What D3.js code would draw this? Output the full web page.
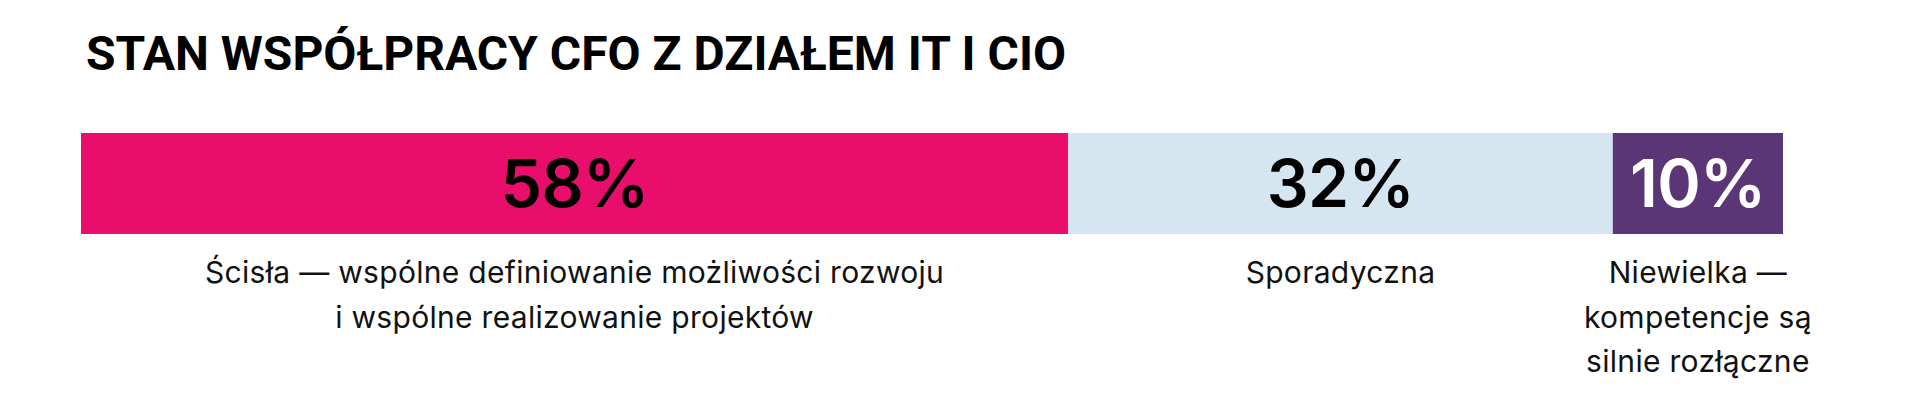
<!DOCTYPE html>
<html>
<head>
<meta charset="utf-8">
<script src="https://cdn.jsdelivr.net/npm/d3@7"></script>
<style>
  body { margin: 0; background: #fff; }
  svg { display: block; }
</style>
</head>
<body>
<svg id="svg"></svg>
<script>
var title = "STAN WSPÓŁPRACY CFO Z DZIAŁEM IT I CIO";
var categories = ["Ścisła", "Sporadyczna", "Niewielka"];
var values = [58, 32, 10];
var valueLabels = ["58%", "32%", "10%"];
var descriptions = [
    ["Ścisła — wspólne definiowanie możliwości rozwoju", "i wspólne realizowanie projektów"],
    ["Sporadyczna"],
    ["Niewielka —", "kompetencje są", "silnie rozłączne"]
];
var colors = ["#e90e6c", "#d6e6f0", "#5a3677"];
var textColors = ["#000", "#000", "#fff"];

var width = 1919, height = 409;
var svg = d3.select("#svg").attr("width", width).attr("height", height);

// stack the shares
var segs = [];
var acc = 0;
for (var i = 0; i < values.length; ++i) {
    segs.push({name: categories[i], value: values[i], x0: acc, x1: acc + values[i],
               label: valueLabels[i], desc: descriptions[i], color: colors[i], tcolor: textColors[i]});
    acc += values[i];
}

var x = d3.scaleLinear().domain([0, acc]).range([81, 1783]);
var barTop = 133, barH = 101;

svg.append("text")
    .attr("x", 86)
    .attr("y", 70)
    .attr("font-family", "Roboto, 'Liberation Sans', sans-serif")
    .attr("font-weight", 700)
    .attr("font-size", 48)
    .attr("letter-spacing", 0)
    .attr("fill", "#000")
    .text(title);

var g = svg.selectAll("g.seg")
    .data(segs)
    .enter()
    .append("g")
    .attr("class", "seg");

g.append("rect")
    .attr("x", function(d) { return x(d.x0); })
    .attr("y", barTop)
    .attr("width", function(d) { return x(d.x1) - x(d.x0); })
    .attr("height", barH)
    .attr("fill", function(d) { return d.color; });

g.append("text")
    .attr("x", function(d) { return (x(d.x0) + x(d.x1)) / 2; })
    .attr("y", 207)
    .attr("text-anchor", "middle")
    .attr("font-family", "Inter, 'Noto Sans', sans-serif")
    .attr("font-weight", 600)
    .attr("font-size", 66)
    .attr("letter-spacing", -0.7)
    .attr("fill", function(d) { return d.tcolor; })
    .text(function(d) { return d.label; });

g.append("text")
    .attr("text-anchor", "middle")
    .attr("font-family", "Inter, 'Noto Sans', sans-serif")
    .attr("font-weight", 400)
    .attr("font-size", 30)
    .attr("letter-spacing", 0.3)
    .attr("fill", "#111")
    .selectAll("tspan")
    .data(function(d) {
        var cx = (x(d.x0) + x(d.x1)) / 2;
        return d.desc.map(function(t, j) { return {t: t, cx: cx, j: j}; });
    })
    .enter()
    .append("tspan")
    .attr("x", function(d) { return d.cx; })
    .attr("y", function(d) { return 283 + d.j * 44.5; })
    .text(function(d) { return d.t; });
</script>
</body>
</html>
